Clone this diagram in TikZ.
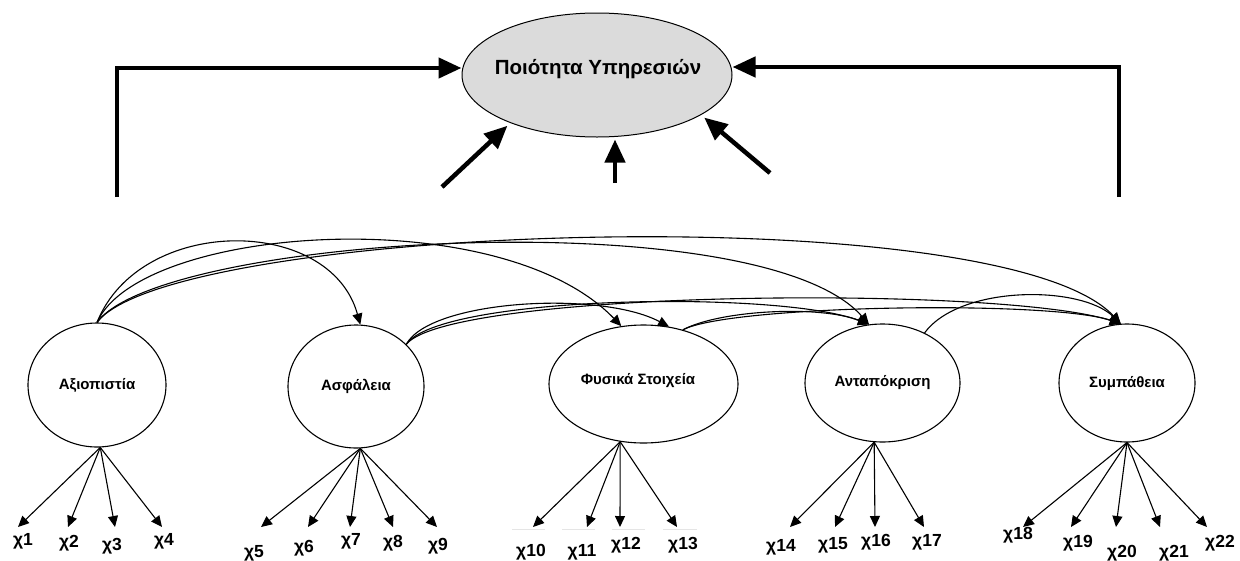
\documentclass[tikz,border=0pt]{standalone}
\usepackage{fontspec}
\setmainfont{Liberation Sans}
\usetikzlibrary{shapes.geometric,arrows.meta}
\begin{document}
\begin{tikzpicture}[x=1pt,y=-1pt,
  latent/.style={ellipse,draw,line width=1.1pt,inner sep=0pt,
    font=\bfseries\fontsize{15}{17}\selectfont},
  ind/.style={font=\bfseries\fontsize{17.5}{20}\selectfont,inner sep=0pt},
  load/.style={line width=1.1pt,-{Triangle[length=11pt,width=10pt]}},
  cov/.style={line width=1.1pt,-{Triangle[length=11pt,width=10pt]}},
  bigarrow/.style={line width=4.5pt,-{Triangle[length=23pt,width=20pt]}},
  rule/.style={line width=1pt,black!10}
]
\useasboundingbox (0,0) rectangle (1240,560);

% overall construct
\node[ellipse,draw,line width=1pt,fill=black!14,minimum width=270pt,minimum height=124pt,
  inner sep=0pt] (Q) at (597,75) {};
\node[font=\bfseries\fontsize{20.5}{24}\selectfont] (Qt) at (598,69) {Ποιότητα Υπηρεσιών};

% dimensions
\node[latent,minimum width=138pt,minimum height=124pt] (A) at (97,385) {Αξιοπιστία};
\node[latent,minimum width=136pt,minimum height=123pt] (B) at (356,386.5) {Ασφάλεια};
\node[latent,minimum width=189pt,minimum height=118pt] (C) at (643.5,384) {};
\node[latent,minimum width=155pt,minimum height=118pt] (D) at (882.5,383) {Ανταπόκριση};
\node[latent,minimum width=136pt,minimum height=118pt] (E) at (1127,383) {Συμπάθεια};
\node[font=\bfseries\fontsize{15}{17}\selectfont] (Ct) at (638,381) {Φυσικά Στοιχεία};

% paths into the overall construct
\coordinate (lfoot) at (117,197);
\coordinate (rfoot) at (1119,197);
\coordinate (d1) at (442,187);
\coordinate (d2) at (615,183);
\coordinate (d3) at (770,173);
\draw[bigarrow] (lfoot) |- ([yshift=7pt]Q.west);
\draw[bigarrow] (rfoot) |- ([yshift=8pt]Q.east);
\draw[bigarrow,shorten >=4pt] (d1) -- (Q.209);
\draw[bigarrow,shorten >=2pt] (d2) -- (d2 |- Q.south);
\draw[bigarrow,shorten >=4pt] (d3) -- (Q.-21);

% covariances
\draw[cov] (A.north) .. controls (140,215) and (330,215) .. (B.86);
\draw[cov] (A.north) .. controls (140,225) and (500,200) .. (C.111);
\draw[cov] (A.north) .. controls (160,235) and (760,200) .. (D.103);
\draw[cov] (A.north) .. controls (170,225) and (1000,195) .. (E.96);
\draw[cov] (B.40) .. controls (430,300) and (600,290) .. (C.66);
\draw[cov] (B.40) .. controls (440,295) and (780,290) .. (D.103);
\draw[cov] (B.40) .. controls (450,290) and (1000,285) .. (E.96);
\draw[cov] (C.54) .. controls (720,310) and (820,305) .. (D.103);
\draw[cov] (C.54) .. controls (730,305) and (1050,300) .. (E.96);
\draw[cov] (D.50) .. controls (960,285) and (1080,285) .. (E.96);

% indicators
\foreach \i/\x in {1/18,2/68,3/115,4/162,5/261,6/308,7/350,8/393,9/437,
  10/533,11/587,12/620,13/677,14/790,15/835,16/875,17/924,
  18/1023,19/1071,20/1116,21/1160,22/1207}
  \coordinate (t\i) at (\x,527);

\foreach \i/\x/\y in {1/23/541,2/69/543,3/112/546,4/164/541,
  5/254/553,6/304/548,7/351/541,8/393/543,9/438/546,
  10/531/552,11/582/552,12/626/545,13/683/545,
  14/781/547,15/833/545,16/876/542,17/927/542,
  18/1018/535,19/1078/543,20/1122/553,21/1174/553,22/1220/543}
  \node[ind] (x\i) at (\x,\y) {χ\i};

\foreach \i in {1,...,4} \draw[load] (A.-87) -- (t\i);
\foreach \i in {5,...,9} \draw[load] (B.-86) -- (t\i);
\foreach \i in {10,...,13} \draw[load] (C.-112) -- (t\i);
\foreach \i in {14,...,17} \draw[load] (D.-98) -- (t\i);
\foreach \i in {18,...,22} \draw[load] (E.-90) -- (t\i);

% faint rules under the physical-elements arrows
\draw[rule] (512,529) -- (545,529);
\draw[rule] (562,529) -- (595,529);
\draw[rule] (612,529) -- (645,529);
\draw[rule] (663,529) -- (697,529);
\end{tikzpicture}
\end{document}
